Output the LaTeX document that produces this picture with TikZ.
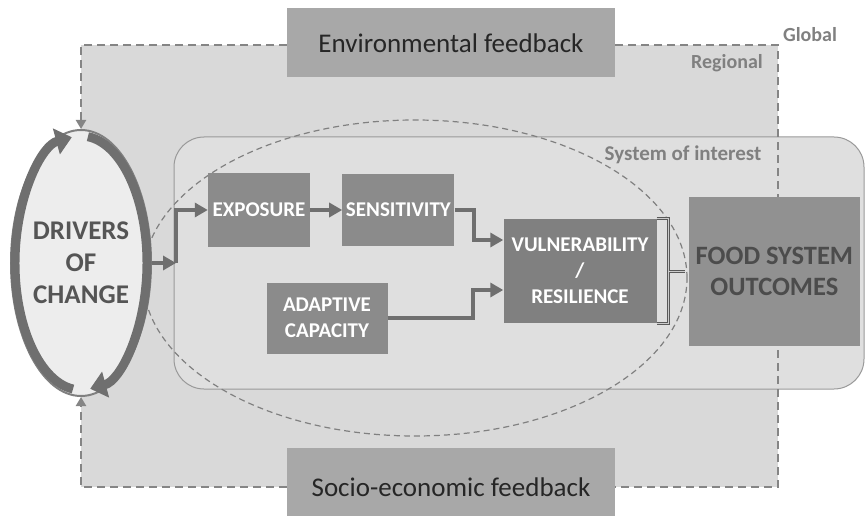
\documentclass[tikz,border=0pt]{standalone}
\usepackage{fontspec}
\setmainfont{Carlito}
\usetikzlibrary{shapes.geometric, arrows.meta, positioning}
\definecolor{regfill}{HTML}{D9D9D9}
\definecolor{sysfill}{HTML}{DFDFDF}
\definecolor{boxgrey}{HTML}{8B8B8B}
\definecolor{fbgrey}{HTML}{A8A8A8}
\definecolor{arrowgrey}{HTML}{6F6F6F}
\definecolor{labelgrey}{HTML}{808080}
\definecolor{textgrey}{HTML}{555555}
\tikzstyle{flow} = [draw=arrowgrey, -{Triangle[length=13pt,width=14pt]}, line width=4pt]
\tikzstyle{fbline} = [draw=arrowgrey!85, dash pattern=on 8pt off 5pt, line width=2.5pt]
\tikzstyle{cyc} = [draw=arrowgrey, -{Triangle[length=16pt,width=26pt]}, line width=9pt]
\tikzstyle{block} = [rectangle, fill=boxgrey, text=white, align=center, inner sep=0pt,
  font=\bfseries\fontsize{21}{26}\selectfont]
\tikzstyle{outcome} = [rectangle, fill=boxgrey!95!white, text=textgrey!90!black, align=center, inner sep=0pt,
  font=\bfseries\fontsize{26.5}{31}\selectfont]
\tikzstyle{fbblock} = [rectangle, fill=fbgrey, text=black!85, inner sep=0pt,
  minimum width=328pt, font=\fontsize{27}{30}\selectfont]
\tikzstyle{drv} = [ellipse, draw=labelgrey, line width=2pt, fill=black!7, text=textgrey,
  minimum width=140pt, minimum height=266pt, inner sep=0pt, align=center,
  font=\bfseries\fontsize{27}{32}\selectfont]
\tikzstyle{tag} = [text=labelgrey, inner sep=0pt, font=\bfseries\fontsize{20}{22}\selectfont]
\tikzstyle{brk} = [draw=black!65, double=black!20, double distance=1pt, line width=1pt]

\begin{document}
\begin{tikzpicture}[x=1pt, y=-1pt]
    \useasboundingbox (0,0) rectangle (865,516);
    \clip (0,0) rectangle (865,516);

    \fill [regfill] (81,45) rectangle (778,487);
    \draw [draw=black!40, fill=sysfill, line width=1pt, rounded corners=30pt] (174,137) rectangle (864,389);
    \node [ellipse, draw=labelgrey, line width=1.2pt, dash pattern=on 6pt off 4pt,
      minimum width=544pt, minimum height=316pt] (interest) at (415,278) {};

    \node [tag] (global) at (810,35) {Global};
    \node [tag] (regional) at (727,63) {Regional};
    \node [tag, font=\bfseries\fontsize{21}{22}\selectfont] (sysname) at (683,155) {System of interest};

    \node [fbblock, minimum height=69pt] (env) at (451,43) {Environmental feedback};
    \node [fbblock, minimum height=78pt] (socio) at (451,487) {Socio-economic feedback};
    \node [drv] (drivers) at (81,263) {DRIVERS\\OF\\CHANGE};

    \coordinate (se) at (778,487);
    \draw [fbline, -{Triangle[length=9pt,width=10pt]}] ([yshift=-2pt]env.west) -| (drivers.north);
    \draw [fbline] ([yshift=-2pt]env.east) -| (se) -- (socio.east);
    \draw [fbline, -{Triangle[length=9pt,width=10pt]}] (socio.west) -| (drivers.south);

    \node [block, minimum width=102pt, minimum height=73pt] (exposure) at (259,210) {EXPOSURE};
    \node [block, right=32pt of exposure, minimum width=112pt, minimum height=72pt] (sensitivity) {SENSITIVITY};
    \node [block, minimum width=121pt, minimum height=71pt] (adaptive) at (327,318) {ADAPTIVE\\CAPACITY};
    \node [block, fill=boxgrey!92!black, minimum width=153pt, minimum height=104pt] (vr) at (580,271) {VULNERABILITY\\/\\RESILIENCE};
    \node [outcome, right=32pt of vr, minimum width=171pt, minimum height=149pt] (food) {FOOD SYSTEM\\OUTCOMES};

    \coordinate (split) at (176,263);

    \draw [cyc] (drivers.center) ++(97:66 and 127) arc [start angle=97, end angle=262, x radius=66, y radius=127];
    \draw [cyc] (drivers.center) ++(276:66 and 127) arc [start angle=276, end angle=442, x radius=66, y radius=127];

    \path [flow] (drivers.east) -- (split);
    \path [flow] (split) |- (exposure.west);
    \path [flow] (exposure) -- (sensitivity);
    \path [flow] (sensitivity.east) -- ++(19,0) |- ([yshift=31pt]vr.west);
    \path [flow] (adaptive.east) -- ++(85.5,0) |- ([yshift=-19pt]vr.west);

    \draw [brk] (vr.north east) -- ++(12,0) |- (vr.south east);
    \draw [brk] ([xshift=12pt]vr.east) -- ([xshift=-4pt]food.west);

  \end{tikzpicture}
\end{document}
